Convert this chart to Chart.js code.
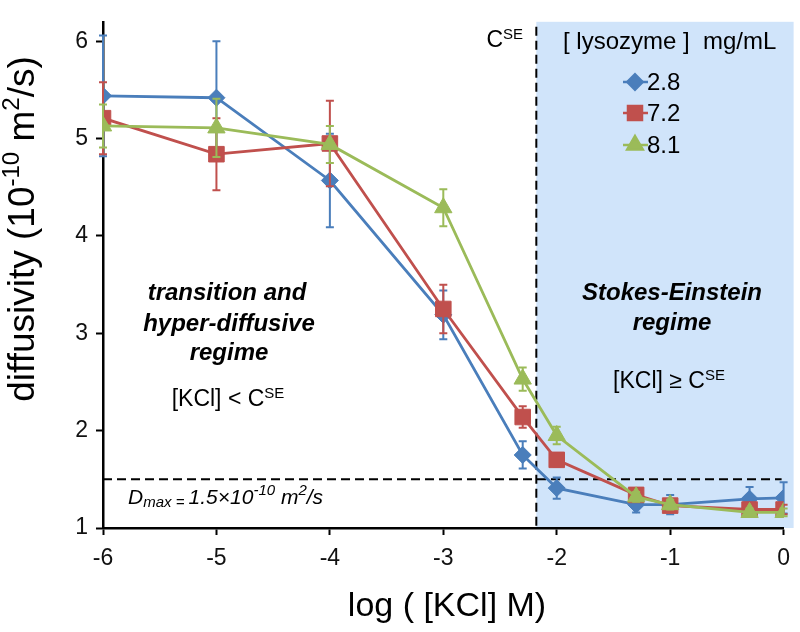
<!DOCTYPE html>
<html>
<head>
<meta charset="utf-8">
<script src="https://cdn.jsdelivr.net/npm/chart.js@4.4.1/dist/chart.umd.min.js"></script>
<style>
  html, body { margin: 0; padding: 0; background: #fff; }
</style>
</head>
<body>
<canvas id="diffChart" width="800" height="632"></canvas>
<script>
// log([KCl] M) values of the measured points
const logKCl = [-6, -5, -4, -3, -2.3, -2, -1.3, -1, -0.3, 0];
const lysozymeLabels = ['2.8', '7.2', '8.1'];

// diffusivity (10^-10 m2/s) and error bars, one pair per lysozyme concentration
const diff28 = [5.44, 5.42, 4.57, 3.19, 1.75, 1.41, 1.24, 1.24, 1.30, 1.31];
const err28 = [0.62, 0.58, 0.48, 0.25, 0.14, 0.11, 0.08, 0.10, 0.12, 0.16];
const diff72 = [5.21, 4.84, 4.95, 3.25, 2.14, 1.70, 1.34, 1.23, 1.19, 1.19];
const err72 = [0.37, 0.37, 0.44, 0.25, 0.11, 0.07, 0.05, 0.05, 0.05, 0.05];
const diff81 = [5.13, 5.11, 4.94, 4.29, 2.53, 1.95, 1.32, 1.24, 1.16, 1.16];
const err81 = [0.22, 0.30, 0.19, 0.19, 0.12, 0.09, 0.05, 0.05, 0.04, 0.04];

const cSE = -2.18;   // Stokes-Einstein threshold, log units
const dMax = 1.5;    // D max line

const xTicks = [-6, -5, -4, -3, -2, -1, 0];
const yTicks = [1, 2, 3, 4, 5, 6];

const colors = ['#4a7ebb', '#c0504d', '#9bbb59'];
const styles = [
  { pointStyle: 'rectRot', radius: 8.5 },
  { pointStyle: 'rect', radius: 11 },
  { pointStyle: 'triangle', radius: 10 }
];

const FONT = '"Liberation Sans", Arial, sans-serif';

function toPoints(vals) {
  return logKCl.map((x, i) => ({ x: x, y: vals[i] }));
}

// draw text made of runs [text, font, dy]
function drawRich(ctx, runs, x, y, align) {
  let w = 0;
  runs.forEach(r => { ctx.font = r[1]; w += ctx.measureText(r[0]).width; });
  let cx = align === 'center' ? x - w / 2 : (align === 'right' ? x - w : x);
  ctx.textAlign = 'left';
  runs.forEach(r => {
    ctx.font = r[1];
    ctx.fillText(r[0], cx, y + (r[2] || 0));
    cx += ctx.measureText(r[0]).width;
  });
}

const background = {
  id: 'background',
  beforeDraw(chart) {
    const { ctx, chartArea, scales: { x, y } } = chart;
    ctx.save();
    ctx.fillStyle = '#fff';
    ctx.fillRect(0, 0, chart.width, chart.height);

    // Stokes-Einstein region
    const xs = x.getPixelForValue(cSE);
    const yb = y.getPixelForValue(1);
    ctx.fillStyle = '#d0e4fa';
    ctx.fillRect(xs, chartArea.top, chartArea.right + 10 - xs, yb - chartArea.top);

    // dashed guides
    ctx.strokeStyle = '#000';
    ctx.lineWidth = 2;
    ctx.setLineDash([9, 5]);
    ctx.beginPath();
    ctx.moveTo(xs, chartArea.top + 5);
    ctx.lineTo(xs, yb);
    const yd = y.getPixelForValue(dMax);
    ctx.moveTo(chartArea.left, yd);
    ctx.lineTo(chartArea.right - 2, yd);
    ctx.stroke();
    ctx.setLineDash([]);

    // annotations
    ctx.fillStyle = '#000';
    ctx.textBaseline = 'middle';
    const bi = 'italic bold 24px ' + FONT;
    drawRich(ctx, [['transition and', bi]], 227, 293, 'center');
    drawRich(ctx, [['hyper-diffusive', bi]], 229, 324, 'center');
    drawRich(ctx, [['regime', bi]], 229, 353, 'center');
    drawRich(ctx, [['Stokes-Einstein', bi]], 672, 293, 'center');
    drawRich(ctx, [['regime', bi]], 672, 323, 'center');

    const n = '23px ' + FONT, s = '15px ' + FONT;
    drawRich(ctx, [['[KCl] < C', n], ['SE', s, -6]], 228, 400, 'center');
    drawRich(ctx, [['[KCl] \u2265 C', n], ['SE', s, -6]], 669, 382, 'center');
    drawRich(ctx, [['C', n], ['SE', s, -6]], 523, 41, 'right');

    const it = 'italic 21px ' + FONT, its = 'italic 15px ' + FONT;
    drawRich(ctx, [['D', it], ['max = ', its, 5], ['1.5\u00d710', it], ['-10', its, -7],
      [' m', it], ['2', its, -7], ['/s', it]], 128, 498, 'left');

    // axis titles
    const t = '34px ' + FONT, ty = '37px ' + FONT, ts = '24px ' + FONT;
    drawRich(ctx, [['log ( [KCl] M)', t]], 447, 607, 'center');
    ctx.save();
    ctx.translate(24, 229);
    ctx.rotate(-Math.PI / 2);
    drawRich(ctx, [['diffusivity (10', ty], ['-10', ts, -12], [' m', ty], ['2', ts, -12], ['/s)', ty]], 0, 0, 'center');
    ctx.restore();
    ctx.restore();
  },
  afterDraw(chart) {
    // legend inside the blue region
    const ctx = chart.ctx;
    ctx.save();
    ctx.fillStyle = '#000';
    ctx.textBaseline = 'middle';
    drawRich(ctx, [['[ lysozyme ]  mg/mL', '24px ' + FONT]], 563, 42, 'left');
    const rows = [82, 113, 145];
    lysozymeLabels.forEach((lab, i) => {
      ctx.strokeStyle = colors[i];
      ctx.fillStyle = colors[i];
      ctx.lineWidth = 2.5;
      ctx.beginPath();
      ctx.moveTo(623, rows[i]);
      ctx.lineTo(648, rows[i]);
      ctx.stroke();
      Chart.helpers.drawPoint(ctx, { pointStyle: styles[i].pointStyle, radius: styles[i].radius * 0.9, rotation: 0, borderWidth: 1 }, 635, rows[i]);
      ctx.fillStyle = '#000';
      drawRich(ctx, [[lab, '24px ' + FONT]], 647, rows[i] + 1, 'left');
    });
    ctx.restore();
  }
};

const errorBars = {
  id: 'errorBars',
  beforeDatasetDraw(chart, args) {
    const ds = chart.data.datasets[args.index];
    const { ctx, scales: { y } } = chart;
    ctx.save();
    ctx.strokeStyle = ds.borderColor;
    ctx.lineWidth = 2;
    args.meta.data.forEach((pt, i) => {
      const v = ds.data[i].y, e = ds.errors[i];
      const top = y.getPixelForValue(v + e), bot = y.getPixelForValue(v - e);
      ctx.beginPath();
      ctx.moveTo(pt.x, top); ctx.lineTo(pt.x, bot);
      ctx.moveTo(pt.x - 4, top); ctx.lineTo(pt.x + 4, top);
      ctx.moveTo(pt.x - 4, bot); ctx.lineTo(pt.x + 4, bot);
      ctx.stroke();
    });
    ctx.restore();
  }
};

const series = [[diff28, err28], [diff72, err72], [diff81, err81]];

new Chart(document.getElementById('diffChart'), {
  type: 'scatter',
  data: {
    datasets: series.map((s, i) => ({
      label: lysozymeLabels[i],
      data: toPoints(s[0]),
      errors: s[1],
      showLine: true,
      borderColor: colors[i],
      backgroundColor: colors[i],
      borderWidth: 2.8,
      pointStyle: styles[i].pointStyle,
      pointRadius: styles[i].radius,
      pointBorderWidth: 1,
      order: 2 - i
    }))
  },
  options: {
    responsive: false,
    animation: false,
    layout: { padding: { left: 0, right: 15, top: 5, bottom: 0 } },
    scales: {
      x: {
        type: 'linear',
        min: -6,
        max: 0,
        afterFit(scale) { scale.height = 104; },
        afterBuildTicks(scale) { scale.ticks = xTicks.map(v => ({ value: v })); },
        grid: { drawOnChartArea: false, drawTicks: true, tickLength: 7, color: '#000', tickWidth: 2 },
        border: { display: true, color: '#000', width: 2.5 },
        ticks: { color: '#111', padding: 10, font: { family: FONT, size: 23 } }
      },
      y: {
        min: 1,
        max: 6.2,
        afterFit(scale) { scale.width = 103; },
        afterBuildTicks(scale) { scale.ticks = yTicks.map(v => ({ value: v })); },
        grid: { drawOnChartArea: false, drawTicks: true, tickLength: 7, color: '#000', tickWidth: 2 },
        border: { display: true, color: '#000', width: 2.5 },
        ticks: { color: '#111', padding: 8, font: { family: FONT, size: 23 } }
      }
    },
    plugins: {
      legend: { display: false },
      tooltip: { enabled: false }
    }
  },
  plugins: [background, errorBars]
});
</script>
</body>
</html>
